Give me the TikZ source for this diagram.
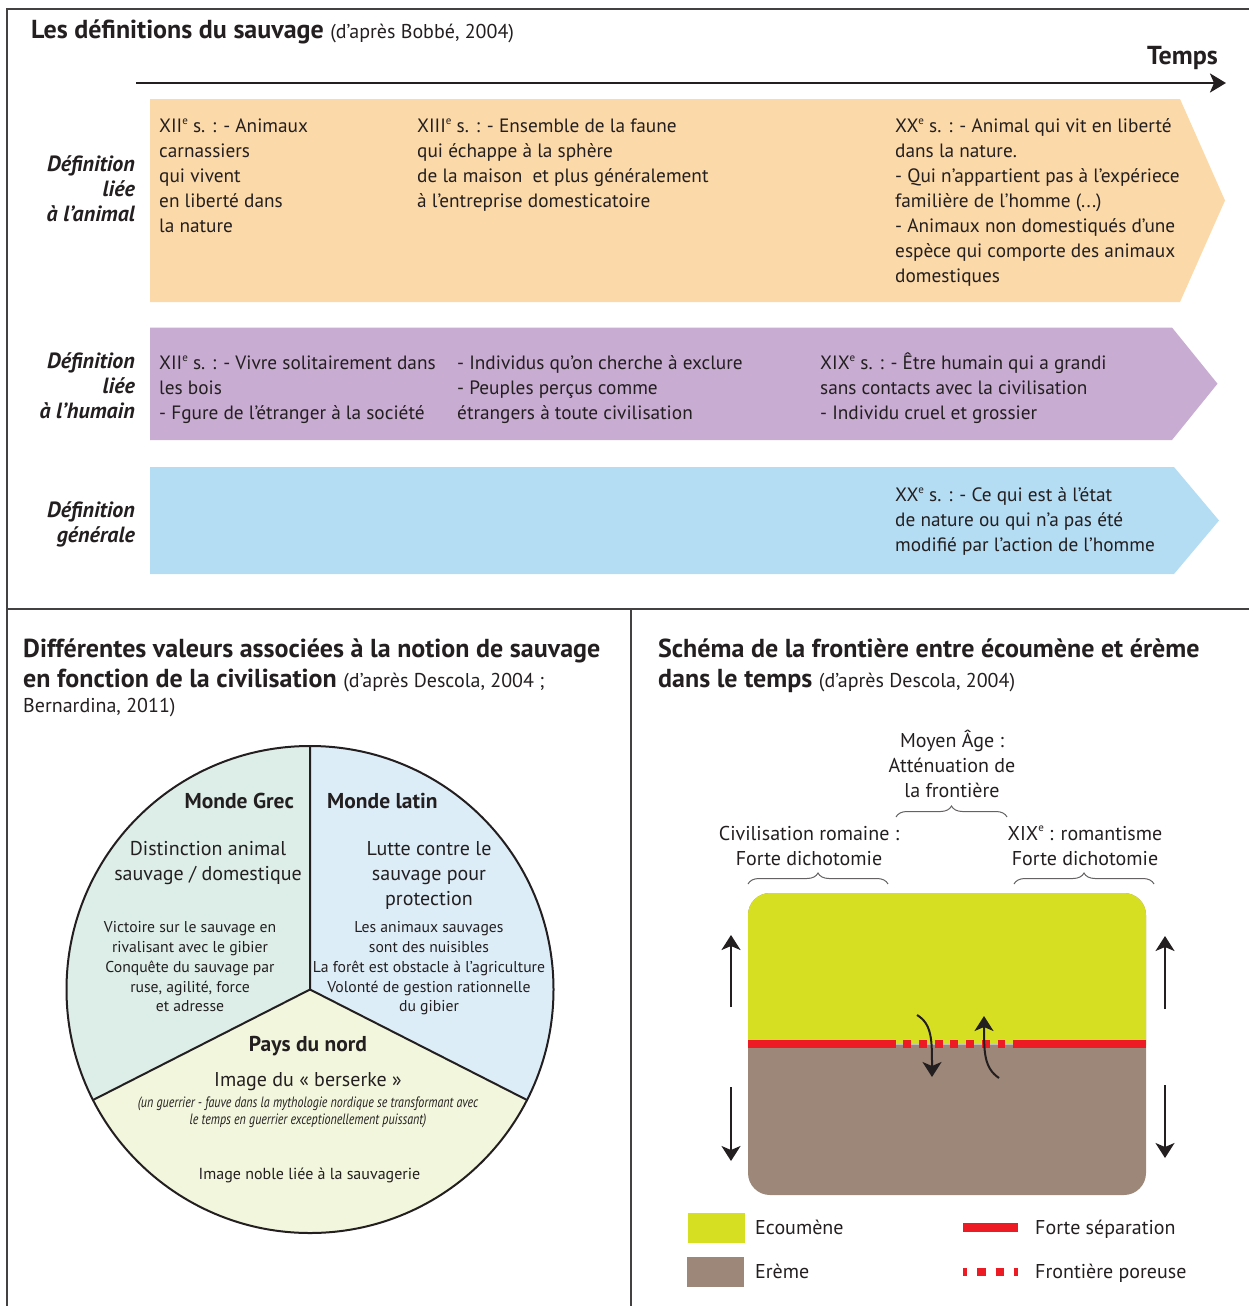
\documentclass[tikz,border=0pt]{standalone}
\usepackage{fontspec}
\setmainfont{PT Sans}
\newfontfamily\narrowfont[FakeStretch=0.8]{PT Sans}
\usetikzlibrary{arrows.meta,decorations.pathreplacing}

\definecolor{ink}{RGB}{35,31,32}
\definecolor{bandorange}{RGB}{252,217,168}
\definecolor{bandpurple}{RGB}{200,172,210}
\definecolor{bandblue}{RGB}{180,220,243}
\definecolor{ecoumene}{RGB}{215,223,35}
\definecolor{ereme}{RGB}{156,135,120}
\definecolor{sepred}{RGB}{237,28,36}
\definecolor{grec}{RGB}{221,238,233}
\definecolor{latin}{RGB}{221,237,248}
\definecolor{nord}{RGB}{242,246,220}

\newcommand{\bodysize}{\fontsize{20}{25}\selectfont}
\newcommand{\bandsize}{\fontsize{19.3}{25}\selectfont}
\newcommand{\smallsize}{\fontsize{15.7}{19.75}\selectfont}
\newcommand{\titlesize}{\fontsize{26}{30}\selectfont}
\newcommand{\refsize}{\fontsize{20}{25}\selectfont}
\newcommand{\siecle}{\raisebox{0.42em}{\fontsize{11}{11}\selectfont e}}
% premiere ligne : ligne de base a 28pt sous le haut du noeud
\newcommand{\tallstrut}{\rule{0pt}{28pt}}

\begin{document}
\begin{tikzpicture}[x=1pt, y=-1pt,
    every node/.style={text=ink, inner sep=0pt},
    txt/.style={font=\bandsize, align=left, anchor=north west},
    ctxt/.style={font=\bodysize, align=center, anchor=north},
    deflabel/.style={font=\fontsize{22}{25}\selectfont\bfseries\itshape, align=right, anchor=north east},
    frame/.style={line width=1.3pt, ink!85},
    pieline/.style={line width=2pt, ink},
    varrow/.style={line width=2pt, ink, -{Stealth[length=15pt,width=19pt,inset=4pt]}},
    sep/.style={line width=8.5pt, sepred},
    brc/.style={decorate, decoration={brace, amplitude=11pt}, line width=1pt, ink!70}]

    \useasboundingbox (0,0) rectangle (1249,1306);

    % cadre
    \draw[frame] (7,1306) -- (7,9) -- (1249,9);
    \draw[frame] (7,609) -- (1249,609);
    \draw[frame] (631,609) -- (631,1306);

    % les definitions du sauvage
    \node (titre1) at (31,39) [anchor=base west, font=\titlesize\bfseries] {Les définitions du sauvage {\refsize\mdseries (d’après Bobbé, 2004)}};

    \coordinate (t1) at (136,83);
    \coordinate (t2) at (1226,83);
    \draw[line width=2.5pt, ink, -{Stealth[length=16pt,width=19pt,inset=4pt]}] (t1) -- (t2);
    \node (temps) at (1218,65) [anchor=base east, font=\fontsize{26}{30}\selectfont\bfseries] {Temps};

    \fill[bandorange] (150,99) -- (1180,99) -- (1225,200.5) -- (1180,302) -- (150,302) -- cycle;
    \fill[bandpurple] (150,327.5) -- (1172,327.5) -- (1217.5,383.7) -- (1172,440) -- (150,440) -- cycle;
    \fill[bandblue] (150,467) -- (1174,467) -- (1219,520.5) -- (1174,574) -- (150,574) -- cycle;

    \node (defanimal) at (135,143) [deflabel] {\tallstrut Définition\\liée\\à l’animal};
    \node (defhumain) at (135,340) [deflabel] {\tallstrut Définition\\liée\\à l’humain};
    \node (defgen) at (135,489) [deflabel] {\tallstrut Définition\\générale};

    \node (an1) at (159,104.5) [txt] {\tallstrut XII\siecle{} s. : - Animaux\\carnassiers\\qui vivent\\en liberté dans\\la nature};
    \node (an2) at (417,104.5) [txt] {\tallstrut XIII\siecle{} s. : - Ensemble de la faune\\qui échappe à la sphère\\de la maison ~et plus généralement\\à l’entreprise domesticatoire};
    \node (an3) at (895,104.5) [txt] {\tallstrut XX\siecle{} s. : - Animal qui vit en liberté\\dans la nature.\\- Qui n’appartient pas à l’expériece\\familière de l’homme (...)\\- Animaux non domestiqués d’une\\espèce qui comporte des animaux\\domestiques};

    \node (hu1) at (159,341) [txt] {\tallstrut XII\siecle{} s. : - Vivre solitairement dans\\les bois\\- Fgure de l’étranger à la société};
    \node (hu2) at (457,341) [txt] {\tallstrut - Individus qu’on cherche à exclure\\- Peuples perçus comme\\étrangers à toute civilisation};
    \node (hu3) at (820,341) [txt] {\tallstrut XIX\siecle{} s. : - Être humain qui a grandi\\sans contacts avec la civilisation\\- Individu cruel et grossier};

    \node (ge1) at (895,473) [txt] {\tallstrut XX\siecle{} s. : - Ce qui est à l’état\\de nature ou qui n’a pas été\\modifié par l’action de l’homme};

    % valeurs du sauvage
    \node (titre2) at (23,629) [txt, font=\titlesize\bfseries] {\tallstrut Différentes valeurs associées à la notion de sauvage\\en fonction de la civilisation {\refsize\mdseries (d’après Descola, 2004 ;}\\[-5pt]{\refsize\mdseries Bernardina, 2011)}};

    \coordinate (pc) at (310,989.5);
    \coordinate (ptop) at (310,746);
    \coordinate (pleft) at (93,1100);
    \coordinate (pright) at (527,1100);
    \fill[grec] (pc) -- (pleft) arc[start angle=153, end angle=270, radius=243.5] -- cycle;
    \fill[latin] (pc) -- (ptop) arc[start angle=270, end angle=387, radius=243.5] -- cycle;
    \fill[nord] (pc) -- (pright) arc[start angle=27, end angle=153, radius=243.5] -- cycle;
    \draw[pieline] (pc) circle[radius=243.5];
    \draw[pieline] (ptop) -- (pc) -- (pleft);
    \draw[pieline] (pc) -- (pright);

    \node (grec) at (294,808) [anchor=base east, font=\fontsize{21.5}{25}\selectfont\bfseries] {Monde Grec};
    \node (latin) at (327,808) [anchor=base west, font=\fontsize{21.5}{25}\selectfont\bfseries] {Monde latin};
    \node (grec1) at (208,827) [ctxt] {\tallstrut Distinction animal\\sauvage / domestique};
    \node (latin1) at (429,827) [ctxt] {\tallstrut Lutte contre le\\sauvage pour\\protection};
    \node (grec2) at (190,904.7) [ctxt, font=\smallsize] {\tallstrut Victoire sur le sauvage en\\rivalisant avec le gibier\\Conquête du sauvage par\\ruse, agilité, force\\et adresse};
    \node (latin2) at (429,904.7) [ctxt, font=\smallsize] {\tallstrut Les animaux sauvages\\sont des nuisibles\\La forêt est obstacle à l’agriculture\\Volonté de gestion rationnelle\\du gibier};
    \node (nord) at (308,1051.7) [anchor=base, font=\fontsize{21.5}{25}\selectfont\bfseries] {Pays du nord};
    \node (nord1) at (308,1086.7) [anchor=base, font=\bodysize] {Image du «~berserke~»};
    \node (nord2) at (308,1079.3) [ctxt, font=\fontsize{15}{16.7}\selectfont\narrowfont\itshape] {\tallstrut (un guerrier - fauve dans la mythologie nordique se transformant avec\\le temps en guerrier exceptionellement puissant)};
    \node (nord3) at (309.5,1179.3) [anchor=base, font=\fontsize{16}{20}\selectfont] {Image noble liée à la sauvagerie};

    % frontiere ecoumene / ereme
    \node (titre3) at (658,629) [txt, font=\titlesize\bfseries] {\tallstrut Schéma de la frontière entre écoumène et érème\\dans le temps {\refsize\mdseries (d’après Descola, 2004)}};

    \node (moyen) at (952,719) [ctxt] {\tallstrut Moyen Âge :\\Atténuation de\\la frontière};
    \node (romain) at (809,812) [ctxt] {\tallstrut Civilisation romaine :\\Forte dichotomie};
    \node (roman) at (1085,812) [ctxt] {\tallstrut XIX\siecle{} : romantisme\\Forte dichotomie};

    \draw[brc] (896,817) -- (1007,817);
    \draw[brc] (748,884) -- (888,884);
    \draw[brc] (1014,884) -- (1154,884);

    \fill[ereme, rounded corners=22pt] (748,893) rectangle (1146,1195);
    \begin{scope}
        \clip (740,880) rectangle (1160,1044);
        \fill[ecoumene, rounded corners=22pt] (748,893) rectangle (1146,1195);
    \end{scope}

    \draw[line width=1pt, black!25] (896,1044) -- (1013,1044);
    \draw[sep] (748,1044) -- (896,1044);
    \draw[sep] (1013,1044) -- (1146,1044);
    \draw[sep, dash pattern=on 8pt off 7.75pt] (903,1044) -- (1005,1044);

    \draw[varrow] (731,1007) -- (731,935);
    \draw[varrow] (731,1087) -- (731,1161);
    \draw[varrow] (1165,1009) -- (1165,936);
    \draw[varrow] (1165,1085) -- (1165,1158);

    \coordinate (c1) at (917,1015);
    \coordinate (c2) at (932,1077);
    \coordinate (c3) at (999,1078);
    \coordinate (c4) at (984,1016);
    \draw[varrow] (c1) .. controls (932,1024) and (932,1040) .. (c2);
    \draw[varrow] (c3) .. controls (984,1068) and (984,1052) .. (c4);

    % legende
    \fill[ecoumene] (688,1213) rectangle (745,1243);
    \node (lecou) at (755,1234) [anchor=base west, font=\bodysize] {Ecoumène};
    \fill[ereme] (687,1257) rectangle (744,1287);
    \node (lereme) at (755,1278) [anchor=base west, font=\bodysize] {Erème};
    \draw[sep] (963,1227.5) -- (1017.5,1227.5);
    \node (lsep) at (1035,1234) [anchor=base west, font=\bodysize] {Forte séparation};
    \draw[sep, dash pattern=on 8.5pt off 10pt, dash phase=4.5pt] (963,1272) -- (1017.5,1272);
    \node (lpor) at (1035,1278) [anchor=base west, font=\bodysize] {Frontière poreuse};

\end{tikzpicture}
\end{document}
